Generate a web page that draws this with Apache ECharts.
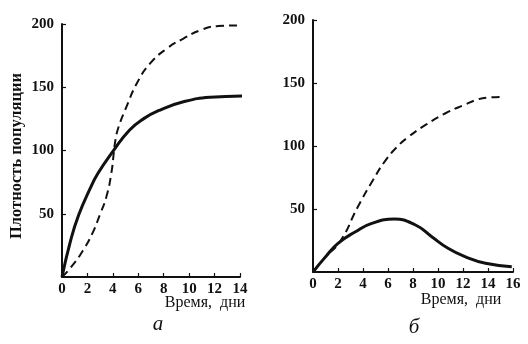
<!DOCTYPE html>
<html>
<head>
<meta charset="utf-8">
<script src="https://cdn.jsdelivr.net/npm/echarts@6/dist/echarts.min.js"></script>
<style>
  html, body { margin: 0; padding: 0; background: #fff; }
  #chart { width: 528px; height: 344px; }
</style>
</head>
<body>
<div id="chart"></div>
<script>
// Panel "а": population density over time (days)
const aSolidDays   = [0, 0.68, 1.31, 2.17, 2.83, 4.02, 5.3, 6.4, 7.71, 9.55, 11.65, 14.5];
const aSolidValues = [0, 29, 49, 69, 82, 99.5, 116, 125, 132, 138.5, 142, 143];
const aDashDays    = [0, 0.73, 1.65, 2.39, 2.97, 3.49, 3.88, 4.09, 4.2, 4.43, 5.09, 5.88, 6.93, 8.24, 9.55, 10.86, 12.2, 14.5];
const aDashValues  = [0, 8, 21, 34.5, 49, 63.4, 82, 99.5, 108, 118, 135, 153, 168.8, 180.6, 188.5, 195, 198.3, 199];

// Panel "б"
const bSolidDays   = [0, 1, 2, 3.4, 4.7, 6.5, 8.2, 9.5, 10.8, 12.2, 13.8, 15.9];
const bSolidValues = [0, 12, 22.7, 32, 38.6, 42, 37.3, 28, 18.8, 12, 6.9, 4.2];
const bDashDays    = [0, 1, 2.16, 3.6, 4.8, 5.76, 6.7, 7.6, 9, 10.6, 12.2, 13.2, 14, 15.2];
const bDashValues  = [0, 12, 24, 52, 73, 88, 99, 107, 116.7, 126, 133, 137, 138.5, 139];

// Axis ticks
const aDayTicks = [0, 2, 4, 6, 8, 10, 12, 14];
const bDayTicks = [0, 2, 4, 6, 8, 10, 12, 14, 16];
const densityTicks = [50, 100, 150, 200];

const yAxisTitle = 'Плотность популяции';
const xAxisTitle = 'Время,  дни';
const panelLetters = ['а', 'б'];

const ink = '#111';
const serif = '"Liberation Serif", "DejaVu Serif", serif';

const pairs = (xs, ys) => xs.map((x, i) => [x, ys[i]]);

function xAxisFor(gridIndex, max, ticks) {
  return {
    type: 'value', gridIndex, min: 0, max,
    splitLine: { show: false },
    axisLine: { lineStyle: { color: ink, width: 2 } },
    axisTick: { inside: true, length: 4, lineStyle: { color: ink, width: 1.2 }, customValues: ticks },
    axisLabel: { color: ink, fontFamily: serif, fontWeight: 'bold', fontSize: 15, margin: 5, customValues: ticks }
  };
}
function yAxisFor(gridIndex) {
  return {
    type: 'value', gridIndex, min: 0, max: 200, interval: 50,
    splitLine: { show: false },
    axisLine: { show: true, lineStyle: { color: ink, width: 2 } },
    axisTick: { inside: true, length: 4, lineStyle: { color: ink, width: 1.2 }, customValues: densityTicks },
    axisLabel: { color: ink, fontFamily: serif, fontWeight: 'bold', fontSize: 15, margin: 8, customValues: densityTicks }
  };
}
function solid(idx, data) {
  return { type: 'line', xAxisIndex: idx, yAxisIndex: idx, data, smooth: 0.5,
           symbol: 'none', clip: false, lineStyle: { color: ink, width: 3 } };
}
function dashed(idx, data) {
  return { type: 'line', xAxisIndex: idx, yAxisIndex: idx, data, smooth: 0.5,
           symbol: 'none', clip: false, lineStyle: { color: ink, width: 2, type: [8, 5] } };
}

const chart = echarts.init(document.getElementById('chart'), null, { renderer: 'canvas' });
chart.setOption({
  backgroundColor: '#fff',
  animation: false,
  grid: [
    { left: 62, top: 24, width: 178, height: 253 },
    { left: 313, top: 20, width: 200, height: 252 }
  ],
  xAxis: [xAxisFor(0, 14, aDayTicks), xAxisFor(1, 16, bDayTicks)],
  yAxis: [yAxisFor(0), yAxisFor(1)],
  series: [
    dashed(0, pairs(aDashDays, aDashValues)),
    solid(0, pairs(aSolidDays, aSolidValues)),
    dashed(1, pairs(bDashDays, bDashValues)),
    solid(1, pairs(bSolidDays, bSolidValues))
  ],
  graphic: [
    { type: 'text', x: 17, y: 156, rotation: Math.PI / 2,
      style: { text: yAxisTitle, fill: ink, font: 'bold 16.5px ' + serif, align: 'center', verticalAlign: 'middle' } },
    { type: 'text', x: 205, y: 303,
      style: { text: xAxisTitle, fill: ink, font: '16px ' + serif, align: 'center', verticalAlign: 'middle' } },
    { type: 'text', x: 461, y: 300,
      style: { text: xAxisTitle, fill: ink, font: '16px ' + serif, align: 'center', verticalAlign: 'middle' } },
    { type: 'text', x: 158, y: 324,
      style: { text: panelLetters[0], fill: ink, font: 'italic 21px ' + serif, align: 'center', verticalAlign: 'middle' } },
    { type: 'text', x: 414, y: 327,
      style: { text: panelLetters[1], fill: ink, font: 'italic 21px ' + serif, align: 'center', verticalAlign: 'middle' } }
  ]
});
</script>
</body>
</html>
